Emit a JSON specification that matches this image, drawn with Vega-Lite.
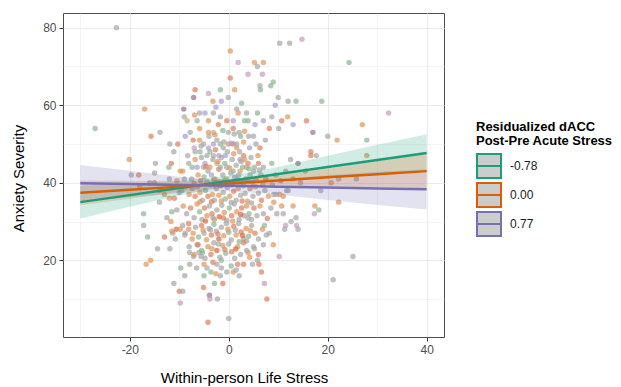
{
"$schema":"https://vega.github.io/schema/vega-lite/v6.json",
"autosize":{"type":"none"},
"padding":{"left":63,"top":13,"right":177,"bottom":50},
"width":381,"height":324,
"background":"white",
"config":{"font":"Liberation Sans","view":{"stroke":"#4d4d4d","strokeWidth":1}},
"datasets":{
"pts":[
{"x":-22.7,"y":80,"c":"g"},{"x":-27,"y":54,"c":"n"},{"x":-17,"y":59,"c":"o"},{"x":-15.7,"y":52,"c":"s"},{"x":-13.9,"y":53,"c":"g"},{"x":-14.8,"y":45,"c":"g"},{"x":-20.1,"y":46,"c":"o"},{"x":-19.7,"y":42,"c":"g"},{"x":-18.2,"y":42,"c":"s"},{"x":-17.2,"y":32,"c":"n"},{"x":-17.2,"y":29,"c":"g"},{"x":-16.4,"y":26,"c":"n"},{"x":-15.8,"y":20,"c":"o"},{"x":-16.7,"y":19,"c":"o"},{"x":-14.4,"y":23,"c":"g"},{"x":-14,"y":35,"c":"g"},{"x":-11.9,"y":23,"c":"g"},{"x":-11.1,"y":14,"c":"g"},{"x":-10,"y":12,"c":"s"},{"x":-9.8,"y":9,"c":"p"},{"x":-9.3,"y":12,"c":"g"},{"x":-9.7,"y":18,"c":"n"},{"x":-8.9,"y":16,"c":"g"},{"x":-7.9,"y":19,"c":"g"},{"x":-7.9,"y":22,"c":"g"},{"x":-13,"y":26,"c":"s"},{"x":-11.7,"y":30,"c":"o"},{"x":-11.3,"y":27,"c":"g"},
{"x":-9.1,"y":59,"c":"d"},{"x":-9,"y":57,"c":"g"},{"x":-6.8,"y":64,"c":"s"},{"x":-7.1,"y":62,"c":"d"},{"x":-4.1,"y":63,"c":"p"},{"x":-1.7,"y":64,"c":"n"},{"x":-3.2,"y":61,"c":"o"},{"x":-1.5,"y":61,"c":"u"},{"x":-0.1,"y":62,"c":"g"},{"x":0.3,"y":74,"c":"o"},{"x":0.3,"y":67,"c":"s"},{"x":1.2,"y":64,"c":"o"},{"x":1.9,"y":71,"c":"p"},{"x":3.9,"y":68,"c":"p"},{"x":5.2,"y":71,"c":"o"},{"x":7,"y":71,"c":"o"},{"x":5.8,"y":70,"c":"g"},{"x":6.8,"y":68,"c":"p"},{"x":6.3,"y":65,"c":"g"},{"x":6.4,"y":64,"c":"n"},{"x":8.5,"y":65,"c":"n"},{"x":9,"y":66,"c":"n"},{"x":10.3,"y":76,"c":"g"},{"x":12.3,"y":76,"c":"g"},{"x":14.8,"y":77,"c":"p"},{"x":10,"y":62,"c":"g"},{"x":12,"y":61,"c":"g"},{"x":13.6,"y":61,"c":"n"},{"x":18.8,"y":61,"c":"n"},{"x":24.3,"y":71,"c":"n"},{"x":32.3,"y":58,"c":"p"},{"x":27,"y":55,"c":"o"},{"x":27.9,"y":51,"c":"n"},{"x":21.9,"y":51,"c":"o"},{"x":20,"y":52,"c":"g"},{"x":17,"y":53,"c":"d"},{"x":15.7,"y":56,"c":"s"},{"x":13,"y":55,"c":"u"},{"x":11.9,"y":57,"c":"o"},{"x":10.7,"y":56,"c":"s"},{"x":9.4,"y":60,"c":"u"},{"x":8.7,"y":57,"c":"g"},{"x":8.2,"y":54,"c":"s"},{"x":10.1,"y":54,"c":"g"},{"x":7.4,"y":51,"c":"g"},{"x":3.6,"y":58,"c":"g"},{"x":5.8,"y":58,"c":"n"},{"x":7,"y":56,"c":"u"},{"x":5.3,"y":55,"c":"u"},{"x":3.2,"y":56,"c":"n"},{"x":3.9,"y":56,"c":"n"},{"x":1.6,"y":59,"c":"g"},{"x":1.9,"y":58,"c":"o"},{"x":0.9,"y":56,"c":"u"},{"x":-0.4,"y":56,"c":"s"},{"x":0.9,"y":54,"c":"s"},{"x":2.1,"y":53,"c":"g"},{"x":4,"y":52,"c":"g"},{"x":5,"y":52,"c":"g"},{"x":2.4,"y":52,"c":"n"},{"x":-0.1,"y":53,"c":"g"},{"x":-2.1,"y":55,"c":"s"},{"x":-1.7,"y":57,"c":"g"},{"x":-3.1,"y":58,"c":"g"},{"x":-4.8,"y":58,"c":"u"},{"x":-5.9,"y":58,"c":"g"},{"x":-4.1,"y":56,"c":"o"},{"x":-6.4,"y":56,"c":"g"},{"x":-8.4,"y":56,"c":"t"},{"x":-7.8,"y":53,"c":"g"},{"x":-8.8,"y":52,"c":"u"},{"x":-7.2,"y":51,"c":"s"},{"x":-5.9,"y":51,"c":"o"},{"x":-4.1,"y":53,"c":"o"},{"x":-3.1,"y":53,"c":"t"},{"x":-5.9,"y":54,"c":"o"},{"x":-5.1,"y":50,"c":"g"},{"x":-4.1,"y":49,"c":"u"},{"x":-3.1,"y":50,"c":"u"},{"x":-2.4,"y":51,"c":"g"},{"x":-1.7,"y":50,"c":"n"},{"x":-1.1,"y":49,"c":"g"},{"x":-0.1,"y":50,"c":"o"},{"x":0.9,"y":50,"c":"s"},{"x":1.6,"y":49,"c":"o"},{"x":3,"y":47,"c":"s"},{"x":6.3,"y":49,"c":"s"},{"x":5.9,"y":47,"c":"o"},{"x":5.2,"y":44,"c":"g"},{"x":3.9,"y":45,"c":"s"},{"x":2.3,"y":46,"c":"u"},{"x":0.7,"y":46,"c":"g"},{"x":-0.7,"y":47,"c":"u"},{"x":-2,"y":47,"c":"u"},{"x":-3.1,"y":47,"c":"g"},{"x":-4.4,"y":47,"c":"g"},{"x":-5.8,"y":48,"c":"n"},{"x":-6.8,"y":48,"c":"g"},{"x":-10.3,"y":50,"c":"s"},{"x":-11.9,"y":50,"c":"g"},{"x":-11.1,"y":48,"c":"g"},{"x":-11.6,"y":45,"c":"s"},{"x":-9.8,"y":43,"c":"o"},{"x":-9.3,"y":43,"c":"o"},{"x":-12.1,"y":44,"c":"n"},{"x":-8.1,"y":45,"c":"g"},{"x":-7.4,"y":44,"c":"n"},{"x":-6.4,"y":44,"c":"u"},{"x":-5.1,"y":44,"c":"g"},{"x":-3.8,"y":44,"c":"o"},{"x":-2.4,"y":45,"c":"t"},{"x":-0.4,"y":44,"c":"g"},{"x":0.9,"y":43,"c":"n"},{"x":2.3,"y":43,"c":"o"},{"x":3.6,"y":44,"c":"o"},{"x":5,"y":43,"c":"g"},{"x":7,"y":44,"c":"g"},{"x":8.7,"y":45,"c":"n"},{"x":12.5,"y":46,"c":"g"},{"x":14,"y":45,"c":"d"},{"x":16.6,"y":47,"c":"s"},{"x":17.7,"y":47,"c":"g"},{"x":16.6,"y":48,"c":"s"},{"x":27.9,"y":47,"c":"o"},{"x":25.8,"y":41,"c":"g"},{"x":22.2,"y":41,"c":"g"},{"x":20.7,"y":40,"c":"o"},{"x":18.6,"y":38,"c":"g"},{"x":17.4,"y":34,"c":"o"},{"x":17.3,"y":32,"c":"p"},{"x":18.2,"y":33,"c":"n"},{"x":22.2,"y":35,"c":"o"},{"x":21.1,"y":15,"c":"g"},{"x":25.1,"y":21,"c":"g"},{"x":13,"y":34,"c":"o"},{"x":13.6,"y":31,"c":"g"},{"x":12.6,"y":30,"c":"g"},{"x":11.5,"y":29,"c":"p"},{"x":11.3,"y":28,"c":"g"},{"x":13.7,"y":29,"c":"p"},{"x":14,"y":28,"c":"g"},{"x":10.2,"y":21,"c":"p"},{"x":9,"y":24,"c":"o"},{"x":8.2,"y":27,"c":"g"},{"x":7.2,"y":29,"c":"n"},{"x":11,"y":32,"c":"g"},{"x":9.7,"y":32,"c":"g"},{"x":10.7,"y":34,"c":"o"},{"x":10.3,"y":37,"c":"o"},{"x":9.1,"y":37,"c":"g"},{"x":9.1,"y":35,"c":"o"},{"x":11.7,"y":38,"c":"g"},{"x":7.7,"y":10,"c":"s"},{"x":7.2,"y":14,"c":"p"},{"x":6.6,"y":17,"c":"s"},{"x":6.1,"y":19,"c":"s"},{"x":4.8,"y":19,"c":"g"},{"x":5.8,"y":20,"c":"g"},{"x":3.9,"y":22,"c":"o"},{"x":5.2,"y":23,"c":"g"},{"x":3.6,"y":25,"c":"g"},{"x":2.1,"y":16,"c":"g"},{"x":0.9,"y":17,"c":"o"},{"x":1.8,"y":19,"c":"s"},{"x":0,"y":5,"c":"g"},{"x":-4.2,"y":4,"c":"s"},{"x":-2.3,"y":10,"c":"g"},{"x":-3.9,"y":11,"c":"d"},{"x":-3.8,"y":10,"c":"p"},{"x":-5.1,"y":13,"c":"s"},{"x":-2.9,"y":14,"c":"n"},{"x":-1.2,"y":14,"c":"s"},{"x":-1.7,"y":16,"c":"g"},{"x":-5,"y":16,"c":"n"},{"x":-3.6,"y":17,"c":"n"},{"x":-4.4,"y":18,"c":"g"},{"x":-2.4,"y":19,"c":"g"},{"x":-0.4,"y":17,"c":"g"},{"x":-1.5,"y":20,"c":"n"},{"x":-5.6,"y":21,"c":"g"},{"x":-5.3,"y":22,"c":"n"},{"x":-6,"y":22,"c":"g"},{"x":-7.1,"y":21,"c":"g"},{"x":-6.4,"y":24,"c":"g"},{"x":-7.2,"y":27,"c":"o"},{"x":-8.1,"y":28,"c":"o"},{"x":-8.8,"y":27,"c":"p"},{"x":-9.3,"y":29,"c":"g"},{"x":-10.6,"y":28,"c":"r"},
{"x":-7.5,"y":41,"c":"g"},{"x":-6.2,"y":42,"c":"o"},{"x":-5,"y":41.5,"c":"n"},{"x":-4.2,"y":43,"c":"g"},{"x":-3.5,"y":42,"c":"u"},{"x":-2.8,"y":41,"c":"g"},{"x":-2,"y":43.5,"c":"s"},{"x":-1.2,"y":42,"c":"g"},{"x":-0.5,"y":41,"c":"o"},{"x":0.4,"y":42.5,"c":"g"},{"x":1.2,"y":41.5,"c":"u"},{"x":2,"y":42,"c":"g"},{"x":2.8,"y":44,"c":"n"},{"x":3.5,"y":41,"c":"s"},{"x":4.3,"y":42,"c":"g"},{"x":5.5,"y":41,"c":"o"},{"x":6.5,"y":42,"c":"g"},{"x":7.5,"y":41,"c":"s"},{"x":-9,"y":41,"c":"g"},{"x":-10.5,"y":40.5,"c":"o"},{"x":-12,"y":41,"c":"g"},{"x":-6.8,"y":46,"c":"o"},{"x":-5.5,"y":46.5,"c":"g"},{"x":-4.8,"y":45,"c":"u"},{"x":-3.2,"y":46,"c":"g"},{"x":-2.2,"y":45.5,"c":"o"},{"x":-1.5,"y":46.5,"c":"g"},{"x":-0.8,"y":45,"c":"n"},{"x":1.5,"y":44.5,"c":"g"},{"x":2.5,"y":45.5,"c":"g"},{"x":3.2,"y":46,"c":"o"},{"x":4.5,"y":46.5,"c":"g"},{"x":6,"y":45,"c":"s"},{"x":-8.3,"y":47,"c":"g"},{"x":-7,"y":49,"c":"p"},{"x":-5.6,"y":49.5,"c":"g"},{"x":-3.8,"y":48,"c":"n"},{"x":-2.7,"y":48.5,"c":"s"},{"x":-0.3,"y":48,"c":"g"},{"x":1,"y":47.5,"c":"o"},{"x":2.2,"y":48,"c":"g"},{"x":4.2,"y":49,"c":"u"},{"x":5.5,"y":50,"c":"g"},{"x":-1,"y":50.5,"c":"g"},{"x":0.5,"y":50.2,"c":"u"},{"x":1.6,"y":50,"c":"g"},{"x":3,"y":50.5,"c":"o"},
{"x":-14,"y":38,"c":"g"},{"x":-13,"y":37,"c":"o"},{"x":-12,"y":36,"c":"o"},{"x":-11,"y":36,"c":"s"},{"x":-10,"y":37.5,"c":"g"},{"x":-9.5,"y":38,"c":"g"},{"x":-8.8,"y":39,"c":"o"},{"x":-8,"y":37,"c":"o"},{"x":-7.4,"y":38.5,"c":"g"},{"x":-6.8,"y":36.5,"c":"s"},{"x":-6.3,"y":39,"c":"g"},{"x":-5.8,"y":37.5,"c":"o"},{"x":-5.3,"y":35.5,"c":"g"},{"x":-4.7,"y":38,"c":"n"},{"x":-4.2,"y":36.5,"c":"s"},{"x":-3.7,"y":39.5,"c":"g"},{"x":-3.3,"y":37,"c":"o"},{"x":-2.9,"y":35.5,"c":"g"},{"x":-2.5,"y":38.5,"c":"g"},{"x":-2,"y":36.8,"c":"o"},{"x":-1.6,"y":39.2,"c":"s"},{"x":-1.1,"y":37.5,"c":"g"},{"x":-0.7,"y":35.8,"c":"n"},{"x":-0.3,"y":38.8,"c":"g"},{"x":0.2,"y":36.5,"c":"o"},{"x":0.6,"y":39.5,"c":"g"},{"x":1,"y":37.8,"c":"s"},{"x":1.5,"y":35.5,"c":"g"},{"x":1.9,"y":38.5,"c":"o"},{"x":2.4,"y":36.8,"c":"g"},{"x":2.9,"y":39.2,"c":"n"},{"x":3.3,"y":37.2,"c":"g"},{"x":3.8,"y":35.2,"c":"o"},{"x":4.3,"y":38.5,"c":"s"},{"x":4.9,"y":36.5,"c":"g"},{"x":5.4,"y":39,"c":"o"},{"x":6,"y":37.3,"c":"g"},{"x":6.6,"y":35.5,"c":"s"},{"x":7.3,"y":38,"c":"g"},{"x":8,"y":36.5,"c":"o"},{"x":8.8,"y":39.5,"c":"g"},{"x":9.6,"y":37,"c":"g"},{"x":11,"y":36.5,"c":"o"},{"x":12,"y":38,"c":"g"},{"x":-16,"y":40,"c":"g"},{"x":-18,"y":39,"c":"o"},{"x":-15,"y":40,"c":"o"},
{"x":-10.5,"y":33,"c":"g"},{"x":-9.2,"y":34,"c":"o"},{"x":-8.5,"y":32,"c":"g"},{"x":-7.7,"y":33.5,"c":"s"},{"x":-7,"y":31,"c":"g"},{"x":-6.4,"y":34.5,"c":"o"},{"x":-5.9,"y":32.5,"c":"n"},{"x":-5.4,"y":30.5,"c":"g"},{"x":-4.9,"y":33.5,"c":"s"},{"x":-4.4,"y":31.5,"c":"o"},{"x":-3.9,"y":34,"c":"g"},{"x":-3.4,"y":32,"c":"s"},{"x":-2.9,"y":30.5,"c":"o"},{"x":-2.4,"y":33,"c":"g"},{"x":-1.9,"y":31.2,"c":"r"},{"x":-1.4,"y":34.2,"c":"g"},{"x":-0.9,"y":32.3,"c":"o"},{"x":-0.4,"y":30.3,"c":"g"},{"x":0.1,"y":33.5,"c":"n"},{"x":0.6,"y":31.5,"c":"s"},{"x":1.1,"y":34.5,"c":"g"},{"x":1.6,"y":32.5,"c":"o"},{"x":2.1,"y":30.5,"c":"g"},{"x":2.6,"y":33.5,"c":"s"},{"x":3.1,"y":31.5,"c":"g"},{"x":3.6,"y":34,"c":"o"},{"x":4.1,"y":32,"c":"n"},{"x":4.6,"y":30.5,"c":"g"},{"x":5.1,"y":33.5,"c":"s"},{"x":5.7,"y":31.5,"c":"g"},{"x":6.3,"y":34,"c":"o"},{"x":7,"y":32,"c":"g"},{"x":7.8,"y":30.8,"c":"s"},{"x":8.5,"y":33.5,"c":"g"},{"x":-12.5,"y":31,"c":"g"},{"x":-11.5,"y":32.5,"c":"n"},
{"x":-9.8,"y":28,"c":"o"},{"x":-8.9,"y":26.5,"c":"g"},{"x":-8.1,"y":29.5,"c":"s"},{"x":-7.4,"y":25.5,"c":"o"},{"x":-6.7,"y":28.5,"c":"g"},{"x":-6.1,"y":26,"c":"n"},{"x":-5.5,"y":29,"c":"s"},{"x":-5,"y":27,"c":"g"},{"x":-4.5,"y":25.3,"c":"o"},{"x":-4,"y":28.2,"c":"g"},{"x":-3.5,"y":26.5,"c":"s"},{"x":-3,"y":29.3,"c":"n"},{"x":-2.5,"y":27.5,"c":"g"},{"x":-2,"y":25.5,"c":"r"},{"x":-1.5,"y":28.5,"c":"g"},{"x":-1,"y":26.3,"c":"o"},{"x":-0.5,"y":29.5,"c":"g"},{"x":0,"y":27.2,"c":"n"},{"x":0.5,"y":25.2,"c":"g"},{"x":1,"y":28.8,"c":"s"},{"x":1.5,"y":26.5,"c":"o"},{"x":2,"y":29.5,"c":"g"},{"x":2.5,"y":27.3,"c":"s"},{"x":3,"y":25.5,"c":"g"},{"x":3.5,"y":28.2,"c":"o"},{"x":4,"y":26.2,"c":"n"},{"x":4.6,"y":29,"c":"g"},{"x":5.3,"y":27,"c":"s"},{"x":6,"y":25.5,"c":"g"},{"x":6.8,"y":28,"c":"o"},{"x":7.6,"y":26.5,"c":"g"},{"x":-11.5,"y":27.5,"c":"o"},{"x":-10.8,"y":25.5,"c":"g"},
{"x":-8,"y":23.5,"c":"g"},{"x":-7,"y":21.5,"c":"o"},{"x":-6.2,"y":24,"c":"s"},{"x":-5.5,"y":22.5,"c":"n"},{"x":-4.8,"y":20.5,"c":"g"},{"x":-4.2,"y":23.5,"c":"o"},{"x":-3.6,"y":21.5,"c":"s"},{"x":-3,"y":24.5,"c":"g"},{"x":-2.4,"y":22.5,"c":"r"},{"x":-1.8,"y":20.8,"c":"g"},{"x":-1.2,"y":23.8,"c":"o"},{"x":-0.6,"y":21.8,"c":"n"},{"x":0,"y":24.2,"c":"g"},{"x":0.6,"y":22.2,"c":"s"},{"x":1.2,"y":20.5,"c":"g"},{"x":1.8,"y":23.5,"c":"o"},{"x":2.4,"y":21.5,"c":"g"},{"x":3,"y":24.5,"c":"s"},{"x":3.6,"y":22.5,"c":"g"},{"x":4.2,"y":20.8,"c":"o"},{"x":5,"y":23.5,"c":"g"},{"x":6,"y":21.5,"c":"s"},{"x":7,"y":24,"c":"g"},
{"x":-6.5,"y":18,"c":"g"},{"x":-5,"y":19,"c":"o"},{"x":-3.2,"y":19.5,"c":"s"},{"x":-1.5,"y":18,"c":"g"},{"x":0.5,"y":18.5,"c":"n"},{"x":1.5,"y":17.5,"c":"g"},{"x":3,"y":19,"c":"s"},{"x":-2.6,"y":16.5,"c":"o"},
{"x":9.5,"y":42,"c":"g"},{"x":10.5,"y":40.5,"c":"s"},{"x":11.5,"y":43,"c":"g"},{"x":13,"y":41,"c":"o"},{"x":14.5,"y":40,"c":"g"},{"x":15.5,"y":43,"c":"g"},{"x":-15,"y":42.5,"c":"g"},
{"x":-5.7,"y":40.5,"c":"s"},{"x":-4.4,"y":40.2,"c":"g"},{"x":-3,"y":40.8,"c":"o"},{"x":-1.9,"y":40.3,"c":"g"},{"x":-0.9,"y":40.6,"c":"n"},{"x":0.9,"y":40.2,"c":"o"},{"x":1.7,"y":40.8,"c":"g"},{"x":2.6,"y":40.3,"c":"s"},{"x":3.9,"y":40.7,"c":"g"},{"x":4.8,"y":40.1,"c":"u"},{"x":-7,"y":39.8,"c":"s"},{"x":6.9,"y":39.6,"c":"g"},
{"x":-4.6,"y":44.2,"c":"s"},{"x":-1.7,"y":44,"c":"g"},{"x":0.2,"y":43.8,"c":"o"},{"x":4.1,"y":43.6,"c":"n"},{"x":6.2,"y":43.3,"c":"g"},
{"x":-5.2,"y":27.8,"c":"o"},{"x":-3.7,"y":27.9,"c":"g"},{"x":-2.2,"y":26.8,"c":"s"},{"x":-0.2,"y":28,"c":"o"},{"x":1.3,"y":27.8,"c":"g"},{"x":2.8,"y":26.4,"c":"r"},{"x":4.4,"y":27.6,"c":"o"},
{"x":-4.7,"y":30.1,"c":"r"},{"x":-3.2,"y":31,"c":"g"},{"x":-1.1,"y":30.9,"c":"s"},{"x":0.8,"y":30.1,"c":"o"},{"x":2.4,"y":31.8,"c":"r"},{"x":3.9,"y":30.9,"c":"g"},
{"x":-5.8,"y":35.1,"c":"o"},{"x":-3.5,"y":35.1,"c":"s"},{"x":-1.5,"y":35.3,"c":"o"},{"x":0.5,"y":34.9,"c":"g"},{"x":2.7,"y":35.3,"c":"s"},{"x":4.6,"y":34.8,"c":"g"},
{"x":-4,"y":52,"c":"g"},{"x":-2.8,"y":52.4,"c":"o"},{"x":-1.2,"y":53.5,"c":"n"},{"x":1.1,"y":52.6,"c":"g"},{"x":3.2,"y":53.3,"c":"o"},{"x":-6.9,"y":57.5,"c":"o"},{"x":2.6,"y":60.5,"c":"n"},{"x":-2.6,"y":59.5,"c":"u"},
{"x":-0.8,"y":22.8,"c":"s"},{"x":-3.4,"y":23,"c":"o"},{"x":1.4,"y":22.9,"c":"r"},{"x":-2.1,"y":24.2,"c":"g"},{"x":2.1,"y":24.8,"c":"n"}
],
"fit":[
{"x":-30,"g":"-0.78","b":"bg","y":35,"lo":30.8,"hi":39.2},{"x":-20,"g":"-0.78","b":"bg","y":36.81,"lo":33.81,"hi":39.81},{"x":-10,"g":"-0.78","b":"bg","y":38.63,"lo":36.73,"hi":40.53},{"x":0,"g":"-0.78","b":"bg","y":40.44,"lo":39.14,"hi":41.74},{"x":10,"g":"-0.78","b":"bg","y":42.26,"lo":40.46,"hi":44.06},{"x":20,"g":"-0.78","b":"bg","y":44.07,"lo":41.17,"hi":46.97},{"x":30,"g":"-0.78","b":"bg","y":45.89,"lo":41.99,"hi":49.79},{"x":40,"g":"-0.78","b":"bg","y":47.7,"lo":42.9,"hi":52.5},
{"x":-30,"g":"0.00","b":"bo","y":37.4,"lo":34.2,"hi":40.6},{"x":-20,"g":"0.00","b":"bo","y":38.2,"lo":35.9,"hi":40.5},{"x":-10,"g":"0.00","b":"bo","y":39.0,"lo":37.6,"hi":40.4},{"x":0,"g":"0.00","b":"bo","y":39.8,"lo":38.8,"hi":40.8},{"x":10,"g":"0.00","b":"bo","y":40.6,"lo":39.2,"hi":42.0},{"x":20,"g":"0.00","b":"bo","y":41.4,"lo":39.1,"hi":43.7},{"x":30,"g":"0.00","b":"bo","y":42.2,"lo":38.8,"hi":45.6},{"x":40,"g":"0.00","b":"bo","y":43.0,"lo":38.6,"hi":47.4},
{"x":-30,"g":"0.77","b":"bp","y":39.9,"lo":35.2,"hi":44.6},{"x":-20,"g":"0.77","b":"bp","y":39.67,"lo":36.27,"hi":43.07},{"x":-10,"g":"0.77","b":"bp","y":39.44,"lo":37.34,"hi":41.54},{"x":0,"g":"0.77","b":"bp","y":39.21,"lo":37.81,"hi":40.61},{"x":10,"g":"0.77","b":"bp","y":38.99,"lo":36.99,"hi":40.99},{"x":20,"g":"0.77","b":"bp","y":38.76,"lo":35.56,"hi":41.96},{"x":30,"g":"0.77","b":"bp","y":38.53,"lo":34.23,"hi":42.83},{"x":40,"g":"0.77","b":"bp","y":38.3,"lo":33.1,"hi":43.5}
]
},
"encoding":{
"x":{"field":"x","type":"quantitative","scale":{"domain":[-33.5,43.5],"nice":false,"zero":false},
"axis":{"values":[-30,-20,-10,0,10,20,30,40],"title":"Within-person Life Stress","labelExpr":"datum.value % 20 === 0 ? '' + datum.value : ''","labelOverlap":false,"labelFlush":false,"grid":true,"gridColor":"#ebebeb","gridWidth":{"condition":{"test":"datum.value % 20 === 0","value":1.1},"value":0.55},"tickColor":{"condition":{"test":"datum.value % 20 === 0","value":"#333333"},"value":"transparent"},"domain":false,"tickSize":4,"labelFontSize":12,"labelColor":"#4d4d4d","labelPadding":3,"titleFontSize":15,"titleFontWeight":"normal","titleColor":"#000000","titleX":181,"titleY":40,"titleBaseline":"middle"}},
"y":{"field":"y","type":"quantitative","scale":{"domain":[0.2,83.8],"nice":false,"zero":false},
"axis":{"values":[10,20,30,40,50,60,70,80],"title":"Anxiety Severity","labelExpr":"datum.value % 20 === 0 ? '' + datum.value : ''","labelOverlap":false,"labelFlush":false,"grid":true,"gridColor":"#ebebeb","gridWidth":{"condition":{"test":"datum.value % 20 === 0","value":1.1},"value":0.55},"tickColor":{"condition":{"test":"datum.value % 20 === 0","value":"#333333"},"value":"transparent"},"domain":false,"tickSize":4,"labelFontSize":12,"labelColor":"#4d4d4d","labelPadding":3,"titleFontSize":15,"titleFontWeight":"normal","titleColor":"#000000","titleX":-45,"titleY":165,"titleAngle":270,"titleBaseline":"middle"}}
},
"layer":[
{"data":{"name":"pts"},"mark":{"type":"circle","size":30,"opacity":0.7},
"encoding":{"color":{"field":"c","type":"nominal","legend":null,"scale":{"domain":["g","o","s","r","p","u","n","d","t"],"range":["#a6a6a6","#e0965a","#dd7f60","#d6683c","#c69bbc","#a99ed2","#8ab693","#94708f","#d2ad78"]}}}},
{"data":{"name":"fit"},"mark":{"type":"area","opacity":0.2},
"encoding":{"y":{"field":"lo","type":"quantitative"},"y2":{"field":"hi"},"fill":{"field":"b","type":"nominal","legend":null,"scale":{"domain":["bg","bo","bp"],"range":["#1b9e77","#d95f02","#7570b3"]}}}},
{"data":{"name":"fit"},"mark":{"type":"line","strokeWidth":2.5},
"encoding":{"stroke":{"field":"g","type":"nominal","scale":{"domain":["-0.78","0.00","0.77"],"range":["#1b9e77","#d95f02","#7570b3"]},
"legend":{"orient":"none","legendX":413,"legendY":108,"title":["Residualized dACC","\u00a0Post-Pre Acute Stress"],"titleFontSize":13,"titleFontWeight":"bold","titleColor":"#000000","titleLineHeight":14,"titlePadding":5,"symbolType":"M-1,-1H1V1H-1Z M-1,0H1","symbolSize":576,"symbolStrokeWidth":2,"symbolFillColor":"#cccccc","labelFontSize":12,"labelColor":"#1a1a1a","labelOffset":8,"rowPadding":-16,"encode":{"symbols":{"update":{"fill":{"value":"#cccccc"},"fillOpacity":{"value":1},"opacity":{"value":1}}}}}}}}
]
}
